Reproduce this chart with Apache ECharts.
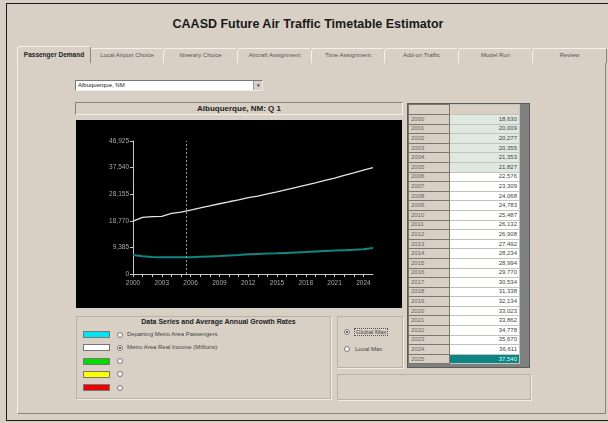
<!DOCTYPE html>
<html>
<head>
<meta charset="utf-8">
<script src="https://cdn.jsdelivr.net/npm/echarts@6/dist/echarts.min.js"></script>
<style>
    body { margin: 0; background: #d8d0c4; font-family: 'Liberation Sans', Arial, sans-serif; }
    .page { position: relative; width: 608px; height: 423px; background: #d8d0c4; overflow: hidden; }
    .abs { position: absolute; box-sizing: border-box; }
    .frame { left: 6px; top: 3px; width: 604px; height: 418px; border: 1px solid #1a1a1a; border-right: none; }
    .title { left: 0; top: 17px; width: 616px; text-align: center; font-size: 12.5px; font-weight: bold; color: #1a1a1a; }
    .panel { left: 17px; top: 62px; width: 589px; height: 352px; border-left: 1px solid #f4f1ea; border-top: 1px solid #f4f1ea; border-right: 1px solid #8a8478; border-bottom: 1px solid #8a8478; }
    .tab { top: 48px; height: 15px; border: 1px solid #8a8478; border-bottom: none; border-radius: 3px 3px 0 0; font-size: 6px; color: #555; text-align: center; line-height: 13px; background: #d8d0c4; border-left-color: #f4f1ea; border-top-color: #f4f1ea; }
    .tab.on { top: 46px; height: 17px; font-weight: bold; color: #222; z-index: 2; line-height: 16px; font-size: 6.5px; }
    .combo { left: 75px; top: 80px; width: 188px; height: 11px; background: #fff; border: 1px solid #777; border-right-color: #eee; border-bottom-color: #eee; font-size: 6px; line-height: 9px; padding-left: 2px; color: #222; }
    .combo .btn { position: absolute; right: 0; top: 0; width: 8px; height: 9px; background: #d8d0c4; border-left: 1px solid #999; font-size: 5px; line-height: 9px; text-align: center; }
    .chartTitle { left: 75px; top: 102px; width: 328px; height: 13px; border: 1px solid #8a8478; border-right-color: #f4f1ea; border-bottom-color: #f4f1ea; font-size: 8px; font-weight: bold; text-align: center; line-height: 11px; color: #222; }
    #chart { left: 76px; top: 120px; width: 326px; height: 188px; background: #000; }
    .group { border: 1px solid #b9b2a5; box-shadow: 1px 1px 0 #f0ece4; }
    .gtitle { font-size: 7px; font-weight: bold; color: #222; }
    .sw { left: 83px; width: 27px; height: 7px; border: 1px solid #777; }
    .radio { width: 6px; height: 6px; border-radius: 50%; background: #fff; border: 1px solid #777; }
    .radio.on::after { content: ''; position: absolute; left: 1px; top: 1px; width: 2px; height: 2px; border-radius: 50%; background: #222; }
    .lbl { font-size: 6px; color: #444; white-space: nowrap; }
    table { border-collapse: collapse; font-size: 6px; color: #444; }
    td { height: 9.6px; padding: 0 2px; border: 1px solid #7d7565; box-sizing: border-box; line-height: 7px; }
    td.y { width: 41px; background: #d8d0c4; color: #666; }
    td.v { width: 70px; text-align: right; background: #fff; border-color: #c4c4bc; border-left-color: #7d7565; }
    td.h { background: #dfe9e1; }
    td.last { background: #0e8585; color: #cff; }
</style>
</head>
<body>
<div class="page">
    <div class="abs frame"></div>
    <div class="abs title">CAASD Future Air Traffic Timetable Estimator</div>
    <div class="abs panel"></div>
    <div id="tabs"></div>
    <div class="abs combo">Albuquerque, NM<div class="btn">▾</div></div>
    <div class="abs chartTitle">Albuquerque, NM: Q 1</div>
    <div id="chart" class="abs"></div>

    <div class="abs group" style="left:76px;top:316px;width:255px;height:83px;"></div>
    <div class="abs gtitle" style="left:76px;top:318px;width:285px;text-align:center;">Data Series and Average Annual Growth Rates</div>
    <div id="legendRows"></div>

    <div class="abs group" style="left:337px;top:316px;width:66px;height:52px;"></div>
    <div class="abs radio on" style="left:344px;top:329px;"></div>
    <div class="abs lbl" style="left:354px;top:328px;border:1px dotted #555;padding:0 1px;">Global Max</div>
    <div class="abs radio" style="left:344px;top:346px;"></div>
    <div class="abs lbl" style="left:355px;top:346px;">Local Max</div>

    <div class="abs group" style="left:337px;top:374px;width:194px;height:26px;"></div>

    <div class="abs" style="left:407px;top:103px;width:123px;height:265px;background:#808080;border:1px solid #5a5a5a;overflow:hidden;">
        <table id="tbl"></table>
    </div>
</div>

<script>
var years = [2000, 2001, 2002, 2003, 2004, 2005, 2006, 2007, 2008, 2009, 2010, 2011, 2012,
    2013, 2014, 2015, 2016, 2017, 2018, 2019, 2020, 2021, 2022, 2023, 2024, 2025]
var incomeValues = [18630, 20009, 20277, 20355, 21353, 21827, 22576, 23309, 24068, 24783, 25487, 26132, 26908,
    27492, 28234, 28994, 29770, 30534, 31338, 32134, 33023, 33862, 34778, 35670, 36611, 37540]
var passengerValues = [6700, 6300, 6000, 5950, 5950, 5900, 5900, 6050, 6200, 6350, 6550, 6700, 6950,
    7100, 7200, 7300, 7450, 7600, 7750, 7950, 8100, 8250, 8400, 8550, 8750, 9200]
var yTicks = [0, 9385, 18770, 28155, 37540, 46925]
var xLabelYears = [2000, 2003, 2006, 2009, 2012, 2015, 2018, 2021, 2024]
var historyEnd = 2005.5
var tabNames = ['Passenger Demand', 'Local Airport Choice', 'Itinerary Choice', 'Aircraft Assignment',
    'Time Assignment', 'Add-on Traffic', 'Model Run', 'Review']
var tabEdges = [17, 90, 163, 237, 311, 384, 458, 532, 606]
var seriesNames = ['Departing Metro Area Passengers', 'Metro Area Real Income (Millions)', '', '', '']
var seriesColors = ['#00e5f0', '#ffffff', '#00dd00', '#ffff00', '#ee0000']

function fmt(v) {
    return v.toLocaleString('en-US')
}

// tabs
var tabHtml = ''
tabNames.forEach(function (name, i) {
    tabHtml += '<div class="abs tab' + (i === 0 ? ' on' : '') + '" style="left:' + tabEdges[i] + 'px;width:' +
        (tabEdges[i + 1] - tabEdges[i] + 1) + 'px;">' + name + '</div>'
})
document.getElementById('tabs').innerHTML = tabHtml

// legend rows
var rowHtml = ''
seriesNames.forEach(function (name, i) {
    var top = 331 + i * 13.3
    rowHtml += '<div class="abs sw" style="top:' + top + 'px;background:' + seriesColors[i] + ';"></div>'
    rowHtml += '<div class="abs radio' + (i === 1 ? ' on' : '') + '" style="left:117px;top:' + (top + 0.5) + 'px;"></div>'
    rowHtml += '<div class="abs lbl" style="left:127px;top:' + (top - 0.5) + 'px;">' + name + '</div>'
})
document.getElementById('legendRows').innerHTML = rowHtml

// table
var tblHtml = '<tr><td class="y" style="height:10px"></td><td class="v" style="height:10px;background:#d8d0c4"></td></tr>'
years.forEach(function (y, i) {
    var cls = 'v'
    if (y <= 2005) cls += ' h'
    if (i === years.length - 1) cls += ' last'
    tblHtml += '<tr><td class="y">' + y + '</td><td class="' + cls + '">' + fmt(incomeValues[i]) + '</td></tr>'
})
document.getElementById('tbl').innerHTML = tblHtml

var chart = echarts.init(document.getElementById('chart'))
chart.setOption({
    backgroundColor: '#000',
    animation: false,
    grid: {
        left: 57,
        right: 29,
        top: 21,
        bottom: 34
    },
    xAxis: {
        type: 'value',
        min: years[0],
        max: years[years.length - 1],
        interval: 1,
        axisLine: {
            lineStyle: { color: '#c8c8c8', width: 1 }
        },
        axisTick: {
            length: 3,
            lineStyle: { color: '#c8c8c8' }
        },
        splitLine: { show: false },
        axisLabel: {
            color: '#a8a8a8',
            fontSize: 6.5,
            margin: 6,
            showMaxLabel: false,
            formatter: function (v) {
                return xLabelYears.indexOf(v) >= 0 ? String(v) : ''
            }
        }
    },
    yAxis: {
        type: 'value',
        min: yTicks[0],
        max: yTicks[yTicks.length - 1],
        interval: yTicks[1],
        axisLine: {
            show: true,
            lineStyle: { color: '#c8c8c8', width: 1 }
        },
        axisTick: {
            show: true,
            length: 3,
            lineStyle: { color: '#c8c8c8' }
        },
        splitLine: { show: false },
        axisLabel: {
            color: '#a8a8a8',
            fontSize: 6.5,
            margin: 4,
            formatter: function (v) {
                return fmt(v)
            }
        }
    },
    series: [
        {
            name: seriesNames[1],
            type: 'line',
            symbol: 'none',
            lineStyle: { color: '#e4e4e4', width: 1.3 },
            data: years.map(function (y, i) { return [y, incomeValues[i]] }),
            markLine: {
                silent: true,
                symbol: 'none',
                label: { show: false },
                lineStyle: { color: '#9a9a9a', type: [2, 2], width: 1 },
                data: [{ xAxis: historyEnd }]
            }
        },
        {
            name: seriesNames[0],
            type: 'line',
            symbol: 'none',
            lineStyle: { color: '#0f8683', width: 2 },
            data: years.map(function (y, i) { return [y, passengerValues[i]] })
        }
    ]
})
</script>
</body>
</html>
